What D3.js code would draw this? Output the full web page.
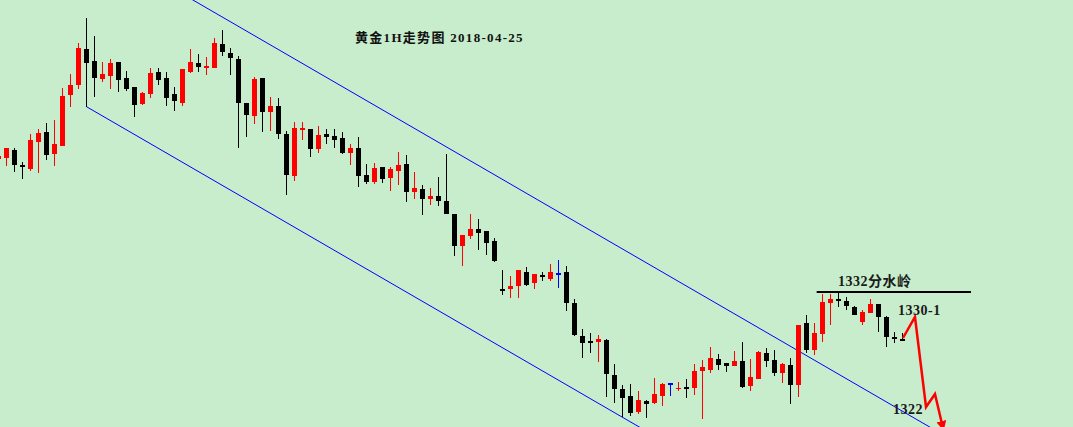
<!DOCTYPE html>
<html><head><meta charset="utf-8">
<script src="https://cdn.jsdelivr.net/npm/d3@7/dist/d3.min.js"></script>
<style>html,body{margin:0;padding:0;background:#C7EDCC;overflow:hidden}</style>
</head><body>
<svg id="chart" width="1073" height="427"></svg>
<script>
const startIndex = -1;
const open = [
1345.33,
1345.43,1346.20,1344.73,1344.33,1347.03,1348.00,1345.83,1346.63,1351.73,1352.73,
1356.30,1355.10,1353.33,1353.63,1355.00,1353.40,1352.50,1350.83,1351.83,1354.00,
1353.40,1351.80,1350.93,1354.00,1354.90,1354.40,1354.40,1356.80,1355.90,1355.30,
1350.90,1349.63,1353.40,1350.03,1350.60,1347.80,1343.63,1348.30,1348.30,1346.33,
1347.80,1347.60,1347.40,1345.90,1346.40,1343.70,1343.00,1344.50,1343.40,1344.10,
1344.80,1342.00,1342.30,1341.30,1341.60,1341.10,1339.80,1336.63,1337.63,1338.30,
1338.10,1337.10,1332.30,1332.30,1332.60,1334.00,1332.90,1333.70,1333.30,1333.87,
1334.00,1330.90,1327.60,1327.10,1327.03,1327.23,1323.70,1322.30,1321.63,1320.03,
1321.13,1320.93,1321.63,1322.87,1322.27,1322.53,1322.43,1324.13,1324.23,1325.33,
1324.93,1324.63,1325.13,1322.63,1323.33,1325.93,1325.23,1323.93,1324.73,1322.73,
1328.93,1326.23,1327.80,1330.90,1331.30,1331.10,1330.50,1329.00,1329.90,1330.80,
1329.50,1327.50,1327.30
];
const high = [
1345.70,
1346.40,1346.40,1345.00,1347.80,1348.30,1348.90,1349.20,1352.40,1353.80,1356.90,
1359.40,1357.60,1355.00,1355.30,1355.00,1354.10,1352.50,1352.00,1354.40,1354.40,
1354.00,1352.50,1354.30,1356.30,1355.80,1355.50,1357.40,1358.20,1356.40,1355.60,
1350.90,1353.50,1353.40,1351.50,1351.40,1348.10,1349.00,1349.00,1348.30,1348.60,
1348.30,1348.30,1348.00,1346.80,1347.50,1344.80,1344.90,1344.50,1344.50,1346.00,
1345.70,1344.00,1342.70,1342.40,1343.50,1345.80,1339.80,1337.70,1339.80,1339.30,
1338.10,1337.40,1334.20,1333.60,1334.20,1334.50,1333.80,1334.00,1334.80,1335.20,
1334.60,1331.30,1328.30,1327.90,1327.70,1327.33,1324.80,1322.73,1322.80,1322.10,
1321.23,1323.43,1322.93,1322.87,1323.03,1323.33,1324.83,1325.23,1326.53,1325.83,
1324.93,1326.13,1327.03,1325.33,1326.13,1326.43,1326.23,1324.93,1325.40,1328.73,
1329.73,1328.93,1331.80,1331.80,1332.00,1331.50,1330.60,1330.20,1331.30,1330.80,
1329.60,1328.00,1327.90
];
const low = [
1345.20,
1344.63,1344.03,1343.33,1344.13,1343.93,1345.23,1344.63,1346.63,1350.53,1352.33,
1350.53,1351.53,1353.03,1352.33,1352.03,1352.13,1349.53,1350.73,1351.43,1352.73,
1350.63,1350.13,1350.63,1353.90,1354.00,1353.70,1354.40,1355.60,1353.70,1346.43,
1347.53,1348.83,1348.03,1348.13,1347.33,1341.73,1343.13,1347.23,1345.53,1345.93,
1346.83,1346.43,1345.80,1344.70,1342.53,1342.80,1342.80,1342.90,1342.10,1342.70,
1341.00,1341.30,1339.70,1340.70,1340.60,1339.80,1335.63,1334.63,1337.33,1336.23,
1335.73,1335.00,1331.70,1331.40,1331.40,1332.60,1332.30,1333.10,1333.10,1332.40,
1330.13,1327.63,1325.43,1325.93,1325.03,1321.53,1320.93,1319.53,1319.63,1319.83,
1319.43,1320.83,1320.63,1321.63,1322.13,1321.43,1321.73,1319.33,1323.93,1324.23,
1324.03,1324.63,1322.43,1322.13,1323.33,1324.53,1323.63,1322.93,1320.83,1321.53,
1325.93,1325.73,1327.00,1328.70,1330.50,1330.20,1329.70,1328.70,1329.90,1328.00,
1326.50,1326.90,1327.13
];
const close = [
1345.60,
1346.40,1344.73,1344.53,1347.20,1347.90,1345.73,1346.80,1351.60,1352.70,1356.40,
1354.93,1353.43,1353.80,1354.90,1353.23,1352.33,1350.73,1351.90,1353.90,1353.23,
1351.43,1351.13,1354.30,1355.00,1354.50,1354.60,1356.90,1356.00,1355.40,1350.93,
1349.73,1353.30,1350.03,1350.60,1347.83,1343.73,1348.40,1348.40,1346.33,1347.70,
1347.53,1347.23,1345.90,1346.40,1343.63,1343.00,1344.40,1343.30,1344.30,1344.70,
1342.00,1342.40,1341.30,1341.60,1341.10,1339.80,1336.63,1337.70,1338.30,1337.93,
1336.93,1335.10,1332.10,1332.60,1334.20,1332.70,1333.80,1333.50,1334.00,1333.87,
1330.93,1327.73,1326.93,1326.93,1327.30,1323.83,1322.33,1321.43,1319.93,1321.23,
1320.83,1321.83,1322.83,1322.87,1322.43,1322.33,1324.13,1324.53,1325.43,1324.73,
1324.63,1325.13,1322.47,1323.53,1326.03,1325.13,1323.93,1324.83,1322.73,1328.73,
1326.23,1327.93,1331.00,1331.30,1331.10,1330.60,1329.70,1330.00,1330.80,1329.50,
1327.50,1327.30,1327.13
];

const channelLower = [[10, 1350.53], [100, 1308.81]];
const channelUpper = [[20, 1362.73], [130, 1311.73]];
const resistance = {from: 101.27, to: 120.56, price: 1332};
const forecast = [[112.06,1327.4],[113.56,1329.5],[114.94,1320.5],[116.06,1321.8],[117.0,1318.6]];
const titleText = "黄金1H走势图 2018-04-25";
const labels = [
  {text: "1332分水岭", i: 103.94, p: 1332.6},
  {text: "1330-1", i: 111.44, p: 1329.7},
  {text: "1322", i: 110.81, p: 1319.8}
];

const W = 1073, H = 427;
const svg = d3.select("#chart");
svg.append("rect").attr("width", W).attr("height", H).attr("fill", "#C7EDCC");

const x = d3.scaleLinear().domain([0, 112]).range([6.5, 902.5]);
const y = d3.scaleLinear().domain([1332, 1322]).range([292, 392]);

const data = open.map((o, k) => ({i: startIndex + k, o, h: high[k], l: low[k], c: close[k]}));
const colorOf = d => d.c > d.o ? "#ff0000" : (d.c < d.o ? "#000000" : "#0000ff");

// channel lines
const line = d3.line().x(d => x(d[0])).y(d => y(d[1]));
svg.append("path").attr("d", line(channelLower)).attr("stroke", "#0000ff").attr("stroke-width", 1).attr("fill", "none");
svg.append("path").attr("d", line(channelUpper)).attr("stroke", "#0000ff").attr("stroke-width", 1).attr("fill", "none");

// candles
const g = svg.append("g").attr("shape-rendering", "crispEdges");
g.selectAll("line.wick").data(data).join("line")
  .attr("x1", d => x(d.i)).attr("x2", d => x(d.i))
  .attr("y1", d => y(d.h)).attr("y2", d => y(d.l))
  .attr("stroke", colorOf).attr("stroke-width", 1);
g.selectAll("rect.body").data(data).join("rect")
  .attr("x", d => x(d.i) - 2.5).attr("width", 5)
  .attr("y", d => y(Math.max(d.o, d.c)))
  .attr("height", d => Math.max(1.5, Math.abs(y(d.o) - y(d.c))))
  .attr("fill", colorOf);

// resistance line
svg.append("line")
  .attr("x1", x(resistance.from)).attr("x2", x(resistance.to))
  .attr("y1", y(resistance.price)).attr("y2", y(resistance.price))
  .attr("stroke", "#000").attr("stroke-width", 2);

// forecast arrow
svg.append("defs").append("marker").attr("id", "ah")
  .attr("viewBox", "0 0 10 10").attr("refX", 5).attr("refY", 5)
  .attr("markerWidth", 4).attr("markerHeight", 4).attr("orient", "auto")
  .attr("markerUnits", "strokeWidth")
  .append("path").attr("d", "M0,0 L10,5 L0,10 z").attr("fill", "#ff0000");
svg.append("path").attr("d", line(forecast)).attr("stroke", "#ff0000")
  .attr("stroke-width", 2.5).attr("fill", "none").attr("marker-end", "url(#ah)");

// labels
svg.selectAll("text.lab").data(labels).join("text")
  .attr("x", d => x(d.i)).attr("y", d => y(d.p))
  .attr("font-family", "'Liberation Serif', 'Noto Sans CJK SC', serif")
  .attr("font-size", 14).attr("font-weight", "bold").attr("fill", "#1a1a1a")
  .attr("letter-spacing", 0.5)
  .text(d => d.text);

svg.append("text").attr("x", 355).attr("y", 42)
  .attr("font-family", "'Liberation Serif', 'Noto Sans CJK SC', serif")
  .attr("font-size", 13).attr("font-weight", "bold").attr("fill", "#111")
  .attr("letter-spacing", 1.3)
  .text(titleText);
</script>
</body></html>
